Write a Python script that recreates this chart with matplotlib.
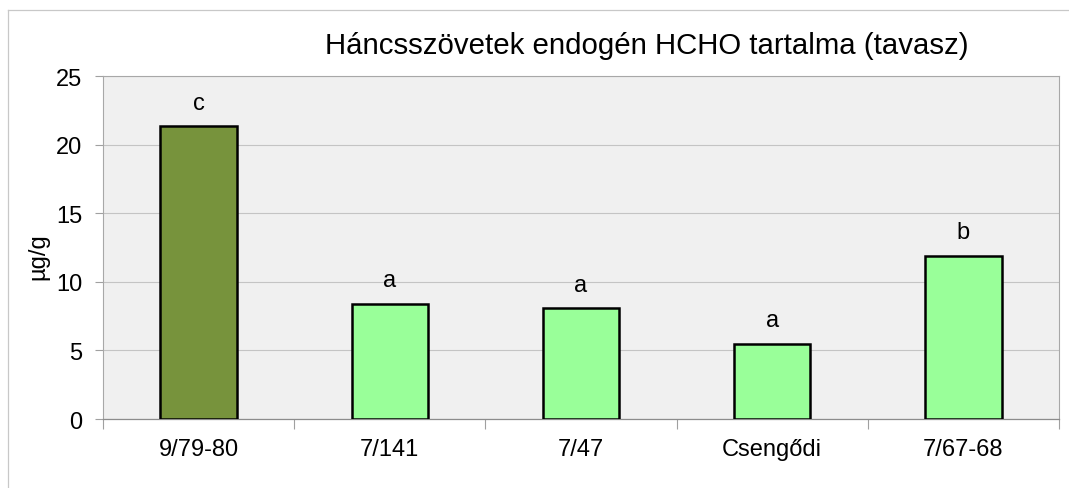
import matplotlib.pyplot as plt
from matplotlib.lines import Line2D
import numpy as np

plt.rcParams['font.family'] = ['Liberation Sans', 'DejaVu Sans']

### Data
varieties = ['9/79-80', '7/141', '7/47', 'Csengődi', '7/67-68']
hcho = [21.35, 8.4, 8.1, 5.5, 11.9]
groups = ['c', 'a', 'a', 'a', 'b']
bar_colors = ['#77933C', '#99FF99', '#99FF99', '#99FF99', '#99FF99']

fig = plt.figure(figsize=(10.69, 4.89), dpi=100)
ax = fig.add_axes([0.0964, 0.1411, 0.8942, 0.7014])
ax.set_facecolor('#F0F0F0')

x = np.arange(len(varieties))
bars = ax.bar(x, hcho, width=0.4, color=bar_colors, edgecolor='black',
              linewidth=1.8, zorder=3)

# significance letters above the bars
for xi, val, g in zip(x, hcho, groups):
    ax.annotate(g, (xi, val), xytext=(0, 12.5), textcoords='offset points',
                ha='center', va='baseline', fontsize=17, zorder=4)

ax.set_xlim(-0.5, len(varieties) - 0.5)
ax.set_ylim(0, 25)
ax.set_yticks(np.arange(0, 26, 5))
ax.set_xticks(x)
ax.set_xticklabels(varieties)
ax.set_xticks(np.arange(-0.5, len(varieties), 1), minor=True)
ax.tick_params(axis='x', which='major', length=0, labelsize=17, pad=14)
ax.tick_params(axis='x', which='minor', length=7, color='#A0A0A0', width=0.8)
ax.tick_params(axis='y', length=6, color='#A0A0A0', width=0.8, labelsize=17, pad=9)

ax.yaxis.grid(True, color='#C4C4C4', linewidth=0.8, zorder=0)
ax.set_axisbelow(True)
for side in ['left', 'top', 'right']:
    ax.spines[side].set_color('#A8A8A8')
    ax.spines[side].set_linewidth(0.8)
ax.spines['bottom'].set_color('#8C8C8C')
ax.spines['bottom'].set_linewidth(0.9)

ax.set_ylabel('µg/g', fontsize=17, labelpad=5, y=0.477)

fig.text(0.605, 1 - 54 / 489, 'Háncsszövetek endogén HCHO tartalma (tavasz)',
         ha='center', va='baseline', fontsize=21.2)

# chart frame
fig.add_artist(Line2D([8 / 1069, 8 / 1069], [0, 1 - 11 / 489], color='#C8C8C8',
                      linewidth=0.9, transform=fig.transFigure))
fig.add_artist(Line2D([8 / 1069, 1], [1 - 11 / 489, 1 - 11 / 489], color='#C8C8C8',
                      linewidth=0.9, transform=fig.transFigure))

fig.savefig('out.png', dpi=100)
